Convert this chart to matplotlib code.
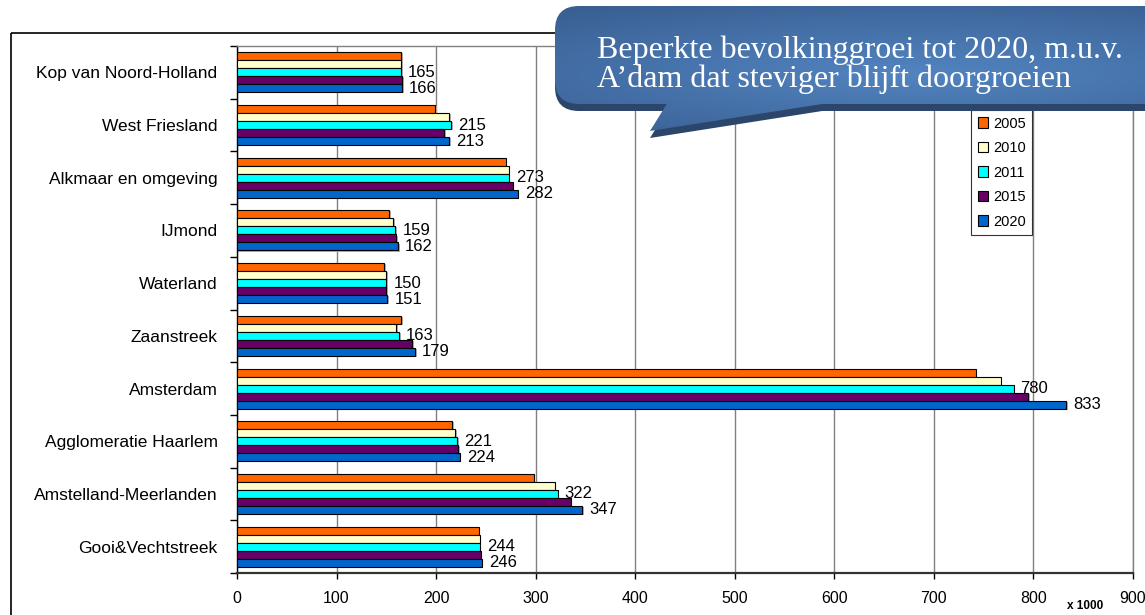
import numpy as np
import matplotlib
matplotlib.use("Agg")
import matplotlib.pyplot as plt
from matplotlib.patches import FancyBboxPatch, Polygon, Rectangle, Patch

# ---------------- data ----------------
categories = ["Kop van Noord-Holland", "West Friesland", "Alkmaar en omgeving", "IJmond",
              "Waterland", "Zaanstreek", "Amsterdam", "Agglomeratie Haarlem",
              "Amstelland-Meerlanden", "Gooi&Vechtstreek"]
years = ["2005", "2010", "2011", "2015", "2020"]
v2005 = [165, 199, 270, 153, 148, 165, 742, 216, 298, 243]
v2010 = [165, 213, 273, 157, 150, 160, 767, 219, 319, 244]
v2011 = [165, 215, 273, 159, 150, 163, 780, 221, 322, 244]
v2015 = [166, 208, 277, 160, 150, 176, 795, 222, 335, 245]
v2020 = [166, 213, 282, 162, 151, 179, 833, 224, 347, 246]
series = [v2005, v2010, v2011, v2015, v2020]
labelled_years = ["2011", "2020"]
colors = ["#FF6600", "#FFFFCC", "#00FFFF", "#660066", "#0066CC"]
xticks = [0, 100, 200, 300, 400, 500, 600, 700, 800, 900]
callout_lines = ["Beperkte bevolkinggroei tot 2020, m.u.v.",
                 "A\u2019dam dat steviger blijft doorgroeien"]

W, H = 1145, 615
fig = plt.figure(figsize=(W / 100, H / 100), dpi=100)
fig.patch.set_facecolor("white")
plt.rcParams["font.family"] = ["Liberation Sans", "DejaVu Sans"]

ax = fig.add_axes([237 / W, 1 - 573 / H, 896 / W, 527 / H])
n = len(categories)
y = np.arange(n)
bh = 0.152
for i, (yr, vals, c) in enumerate(zip(years, series, colors)):
    off = (i - 2) * bh
    # faint drop shadow
    ax.barh(y + off + 0.02, vals, height=bh, left=1.5, color="#b0b0b0",
            edgecolor="none", zorder=2)
for i, (yr, vals, c) in enumerate(zip(years, series, colors)):
    off = (i - 2) * bh
    ax.barh(y + off, vals, height=bh, color=c, edgecolor="black", linewidth=0.8,
            label=yr, zorder=3)
    if yr in labelled_years:
        for yy, v in zip(y, vals):
            ax.text(v + 7, yy + off, f"{round(v)}", va="center", ha="left",
                    fontsize=12, color="black", zorder=4)

ax.set_xlim(0, 900)
ax.set_ylim(n - 0.5, -0.5)
ax.set_xticks(xticks)
ax.set_xticklabels([str(t) for t in xticks], fontsize=11.5)
ax.set_yticks(y)
ax.set_yticklabels(categories, fontsize=12.5)
ax.set_yticks(np.arange(-0.5, n, 1.0), minor=True)
ax.tick_params(axis="y", which="major", length=0, pad=14)
ax.tick_params(axis="y", which="minor", length=5, width=1, direction="out", color="black")
ax.tick_params(axis="x", which="major", length=4, width=1, direction="out", pad=9)
ax.xaxis.grid(True, color="#808080", linewidth=1, zorder=0)
ax.set_axisbelow(True)
for s in ["top", "right"]:
    ax.spines[s].set_color("#808080")
    ax.spines[s].set_linewidth(1)
ax.spines["left"].set_color("black")
ax.spines["left"].set_linewidth(1)
ax.spines["bottom"].set_color("#333333")
ax.spines["bottom"].set_linewidth(1.6)

fig.text(1085 / W, 1 - 606 / H, "x 1000", fontsize=8.5, fontweight="bold",
         ha="center", va="center")

handles = [Patch(facecolor=c, edgecolor="black", linewidth=0.8) for c in colors]
leg = fig.legend(handles, years, loc="upper left",
                 bbox_to_anchor=(971 / W, 1 - 110 / H), bbox_transform=fig.transFigure,
                 fontsize=10.5, frameon=True, fancybox=False, edgecolor="black",
                 handlelength=0.7, handleheight=0.7, handletextpad=0.35,
                 labelspacing=0.72, borderpad=0.45, borderaxespad=0)
leg.get_frame().set_linewidth(0.8)

# ---------------- overlay (frame + callout) ----------------
ov = fig.add_axes([0, 0, 1, 1], zorder=10)
ov.set_xlim(0, W)
ov.set_ylim(H, 0)
ov.axis("off")
ov.patch.set_alpha(0)

ov.add_patch(Rectangle((11, 33), 1300, 700, fill=False, edgecolor="black",
                       linewidth=1.2, zorder=1))

bx0, by0, bw, bhh = 555, 6, 720, 98
tail = [(668, by0 + bhh - 2), (650, 131), (835, by0 + bhh - 2)]
# shadow
ov.add_patch(FancyBboxPatch((bx0, by0 + 7), bw, bhh, boxstyle="round,pad=0,rounding_size=24",
                            facecolor="#2b456b", edgecolor="none", zorder=2))
ov.add_patch(Polygon([(x, yy + 7) for x, yy in tail], closed=True,
                     facecolor="#2b456b", edgecolor="none", zorder=2))
# bubble with gradient
box = FancyBboxPatch((bx0, by0), bw, bhh, boxstyle="round,pad=0,rounding_size=24",
                     facecolor="none", edgecolor="none", zorder=3)
tp = Polygon(tail, closed=True, facecolor="none", edgecolor="none", zorder=3)
ov.add_patch(box)
ov.add_patch(tp)
gx = np.linspace(-1, 1, 300)
gy = np.linspace(-1, 1, 150)
GX, GY = np.meshgrid(gx, gy)
r = np.sqrt((GX * 0.8) ** 2 + GY ** 2)
r = np.clip(r / 1.3, 0, 1)
c_in = np.array([0x52, 0x84, 0xc0]) / 255
c_out = np.array([0x38, 0x5d, 0x90]) / 255
img = c_in[None, None, :] * (1 - r[..., None]) + c_out[None, None, :] * r[..., None]
for clip in (box, tp):
    im = ov.imshow(img, extent=(bx0, bx0 + bw, 140, by0), aspect="auto",
                   interpolation="bilinear", zorder=3)
    im.set_clip_path(clip)
ov.set_xlim(0, W)
ov.set_ylim(H, 0)

ov.text(597, 58, callout_lines[0], family=["Liberation Serif", "DejaVu Serif"],
        fontsize=23, color="white", ha="left", va="baseline", zorder=5)
ov.text(597, 87, callout_lines[1], family=["Liberation Serif", "DejaVu Serif"],
        fontsize=23, color="white", ha="left", va="baseline", zorder=5)

fig.savefig("out.png", dpi=100)
